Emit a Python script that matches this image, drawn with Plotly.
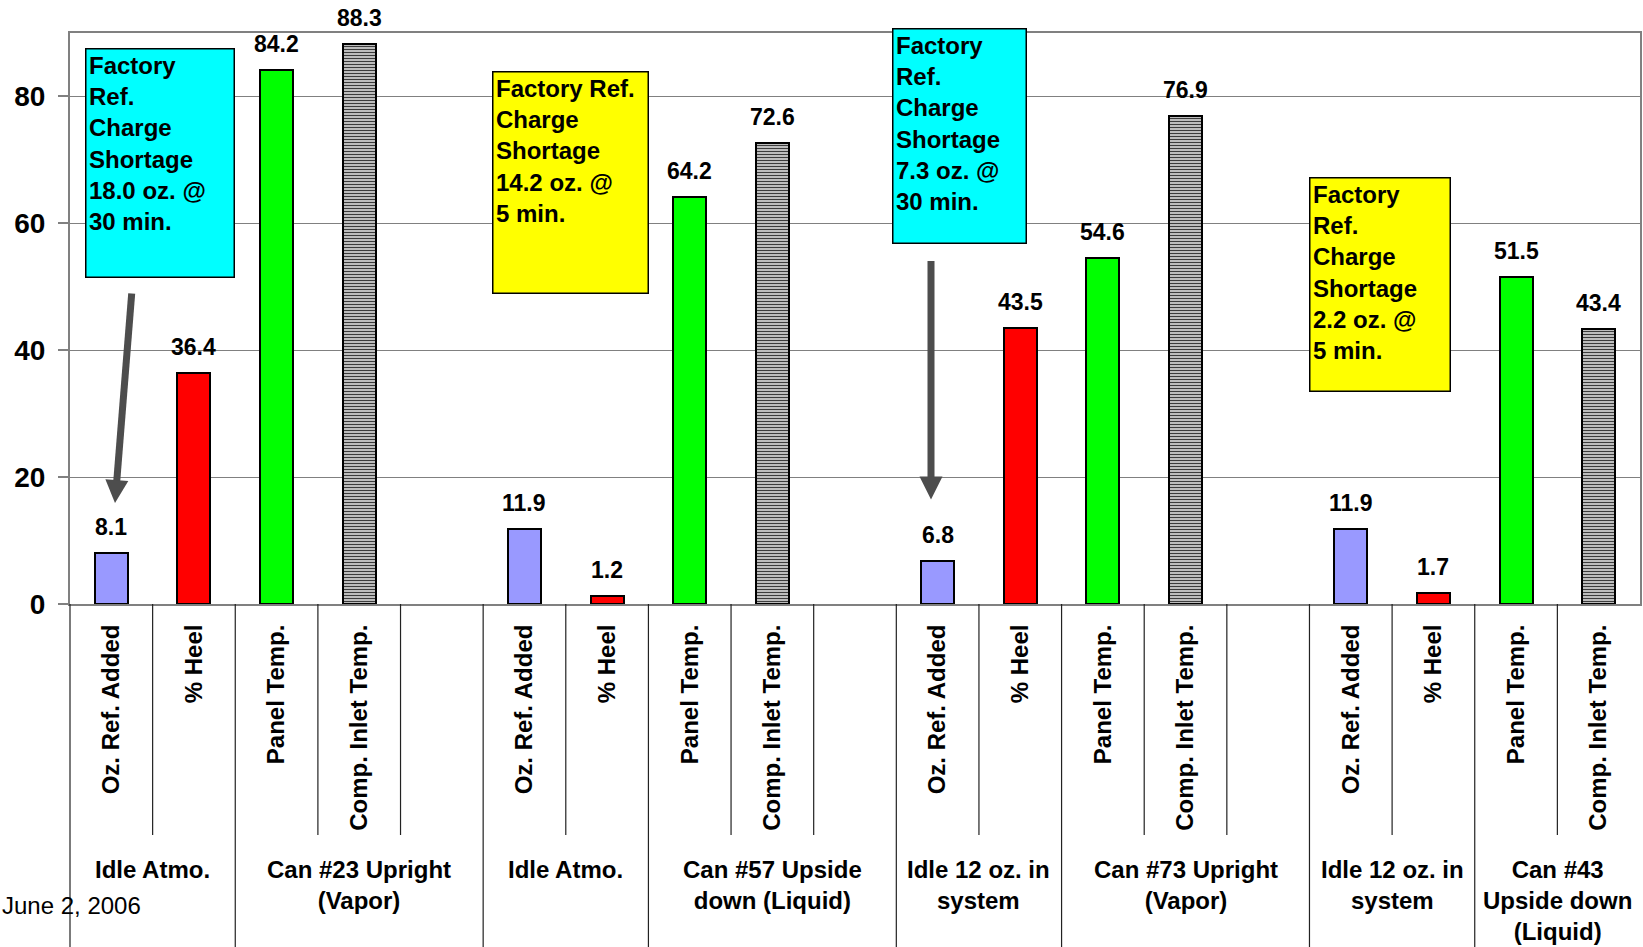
import plotly.graph_objects as go

# ---- data -------------------------------------------------------------
metric_labels = ["Oz. Ref. Added", "% Heel", "Panel Temp.", "Comp. Inlet Temp."]
oz_ref_added = [8.1, 11.9, 6.8, 11.9]
pct_heel = [36.4, 1.2, 43.5, 1.7]
panel_temp = [84.2, 64.2, 54.6, 51.5]
comp_inlet_temp = [88.3, 72.6, 76.9, 43.4]

group_labels = [
    "Idle Atmo.", "Can #23 Upright<br>(Vapor)",
    "Idle Atmo.", "Can #57 Upside<br>down (Liquid)",
    "Idle 12 oz. in<br>system", "Can #73 Upright<br>(Vapor)",
    "Idle 12 oz. in<br>system", "Can #43<br>Upside down<br>(Liquid)",
]
group_spans = [2, 3, 2, 3, 2, 3, 2, 2]

note_texts = [
    "Factory<br>Ref.<br>Charge<br>Shortage<br>18.0 oz. @<br>30 min.",
    "Factory Ref.<br>Charge<br>Shortage<br>14.2 oz. @<br>5 min.",
    "Factory<br>Ref.<br>Charge<br>Shortage<br>7.3 oz. @<br>30 min.",
    "Factory<br>Ref.<br>Charge<br>Shortage<br>2.2 oz. @<br>5 min.",
]
date_text = "June 2, 2006"
y_ticks = [0, 20, 40, 60, 80]

# ---- page geometry ----------------------------------------------------
W, H = 1643, 947
ML, MR, MT, MB = 70, 3, 33, 343
PW, PH = W - ML - MR, H - MT - MB
Y_MAX = 90
FONT = "Liberation Sans, Arial, sans-serif"
GREY = "#808080"


def px_x(px):
    return (px - ML) / PW


def px_y(py):
    return (MT + PH - py) / PH


# slot layout: each run = measurement group + test group
edges = [0]
for s in group_spans:
    edges.append(edges[-1] + s)
n_slots = edges[-1]
run_starts = edges[0:-1:2]

series = [
    (oz_ref_added, "#9999FF", None),
    (pct_heel, "#FF0000", None),
    (panel_temp, "#00FF00", None),
    (comp_inlet_temp, "white", dict(shape="-", size=3, solidity=0.5,
                                    fgcolor="#3c3c3c", bgcolor="#e8e8e8",
                                    fillmode="replace")),
]

fig = go.Figure()
annotations = []
tickvals, ticktext = [], []

for m, (vals, color, pattern) in enumerate(series):
    xs = [start + m for start in run_starts]
    marker = dict(color=color, line=dict(color="black", width=2))
    if pattern:
        marker["pattern"] = pattern
    fig.add_trace(go.Bar(x=xs, y=vals, width=0.4, marker=marker,
                         name=metric_labels[m], showlegend=False,
                         hoverinfo="x+y"))
    for x, v in zip(xs, vals):
        annotations.append(dict(
            x=x, y=v, xref="x", yref="y", text=f"{v:.1f}", showarrow=False,
            yanchor="middle", yshift=26,
            font=dict(family=FONT, size=23, color="black", weight="bold")))
    tickvals += xs
    ticktext += [metric_labels[m]] * len(xs)

# group captions under the rotated metric labels
for g, label in enumerate(group_labels):
    centre = (edges[g] + edges[g + 1]) / 2 - 0.5
    annotations.append(dict(
        x=centre, y=px_y(854), xref="x", yref="paper", text=label,
        showarrow=False, yanchor="top", xanchor="center", align="center",
        font=dict(family=FONT, size=24, color="black", weight="bold")))

annotations.append(dict(
    x=px_x(0), y=px_y(905), xref="paper", yref="paper", text=date_text,
    showarrow=False, xanchor="left", yanchor="middle",
    font=dict(family=FONT, size=24, color="black")))

# call-out boxes: (left, top, right, bottom) in px, fill colour
note_boxes = [
    ((85, 48, 235, 278), "#00FFFF"),
    ((492, 71, 649, 294), "#FFFF00"),
    ((892, 28, 1027, 244), "#00FFFF"),
    ((1309, 177, 1451, 392), "#FFFF00"),
]
BW, BP = 1.5, 2.5
for text, ((l, t, r, b), fill) in zip(note_texts, note_boxes):
    annotations.append(dict(
        x=px_x(l), y=px_y(t), xref="paper", yref="paper", text=text,
        showarrow=False, xanchor="left", yanchor="top", align="left",
        valign="top", width=(r - l) - 2 * (BW + BP),
        height=(b - t) - 2 * (BW + BP), bgcolor=fill, bordercolor="black",
        borderwidth=BW, borderpad=BP,
        font=dict(family=FONT, size=24, color="black", weight="bold")))

shapes = []

# divider lines under the category axis
short_bottom = px_y(835)
long_bottom = px_y(H)
group_edges = set(edges[:-1])
for k in range(n_slots):
    shapes.append(dict(
        type="line", xref="paper", yref="paper", x0=k / n_slots,
        x1=k / n_slots, y0=0, y1=long_bottom if k in group_edges else short_bottom,
        line=dict(color="#222222", width=1.2), layer="above"))

# pointer arrows from the call-outs
ARROW = "#4d4d4d"
arrows = [((131.7, 293.5), (115.0, 503.0)), ((931.0, 261.0), (931.0, 499.5))]
for (tx, ty), (hx, hy) in arrows:
    dx, dy = hx - tx, hy - ty
    ln = (dx * dx + dy * dy) ** 0.5
    ux, uy = dx / ln, dy / ln
    head_len, half_w = 23.0, 11.5
    bx, by = hx - head_len * ux, hy - head_len * uy
    nx, ny = -uy, ux
    shapes.append(dict(
        type="line", xref="paper", yref="paper",
        x0=px_x(tx), y0=px_y(ty), x1=px_x(bx + 2 * ux), y1=px_y(by + 2 * uy),
        line=dict(color=ARROW, width=7)))
    pts = [(hx, hy), (bx + half_w * nx, by + half_w * ny),
           (bx - half_w * nx, by - half_w * ny)]
    path = "M " + " L ".join(f"{px_x(a):.5f},{px_y(c):.5f}" for a, c in pts) + " Z"
    shapes.append(dict(type="path", xref="paper", yref="paper", path=path,
                       fillcolor=ARROW, line=dict(width=0)))

fig.update_layout(
    width=W, height=H,
    margin=dict(l=ML, r=MR, t=MT, b=MB, autoexpand=False),
    paper_bgcolor="white", plot_bgcolor="white",
    barmode="overlay", bargap=0,
    annotations=annotations, shapes=shapes,
    font=dict(family=FONT, color="black"),
)
fig.update_xaxes(
    range=[-0.5, n_slots - 0.5], tickvals=tickvals, ticktext=ticktext,
    tickangle=-90, ticks="", ticklabelstandoff=9,
    tickfont=dict(family=FONT, size=24, color="black", weight="bold"),
    showgrid=False, zeroline=False,
    showline=True, mirror=True, linecolor=GREY, linewidth=2,
)
fig.update_yaxes(
    range=[0, Y_MAX], tickvals=y_ticks, ticks="outside", ticklen=10,
    tickcolor=GREY, tickwidth=1.5, ticklabelstandoff=7,
    tickfont=dict(family=FONT, size=28, color="black", weight="bold"),
    showgrid=True, gridcolor=GREY, gridwidth=1.3, zeroline=False,
    showline=True, mirror=True, linecolor=GREY, linewidth=2,
)

fig.write_html("out.html")
